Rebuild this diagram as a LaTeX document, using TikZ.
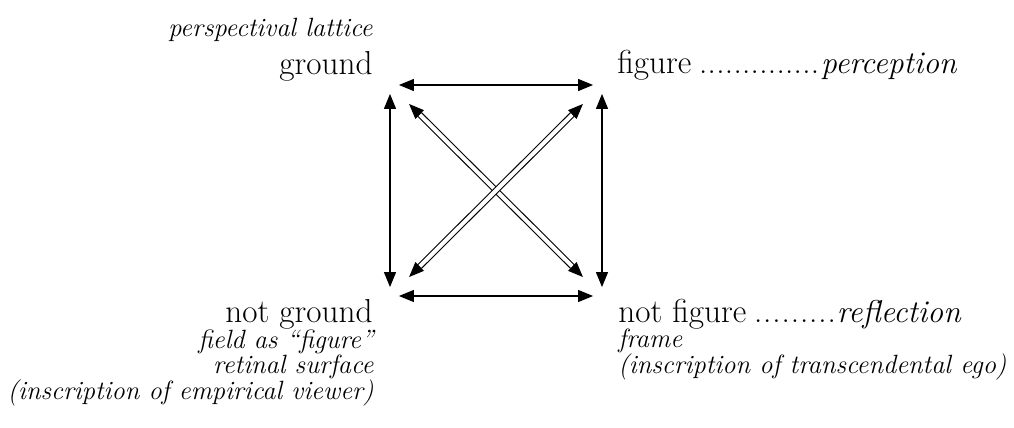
\documentclass[tikz,border=0pt]{standalone}
\usetikzlibrary{arrows.meta}
\newcommand\dotA{\hbox to 4.3pt{\hss.\hss}}
\newcommand\dotB{\hbox to 4.6pt{\hss.\hss}}
\begin{document}
\begin{tikzpicture}[x=0.5pt,y=-0.5pt,
  rom/.style={font=\fontsize{16.6}{19}\selectfont, inner sep=0pt},
  itl/.style={font=\fontsize{13.2}{15}\selectfont\itshape, inner sep=0pt},
  corner/.style={circle, minimum size=8.5pt, inner sep=0pt},
  tip/.tip={Triangle[length=7.5pt,width=6pt]},
  arr/.style={tip-tip, line width=0.55pt},
  dbl/.style={arr, double, double distance=2pt, shorten <=9pt, shorten >=9pt}]
\useasboundingbox (0,0) rectangle (1014,428);
% corners
\node[corner] (TL) at (390,85) {};
\node[corner] (TR) at (602,85) {};
\node[corner] (BL) at (390,296) {};
\node[corner] (BR) at (602,296) {};
% connectors
\draw[arr] (TL) -- (TR);
\draw[arr] (BL) -- (BR);
\draw[arr] (TL) -- (BL);
\draw[arr] (TR) -- (BR);
\draw[dbl] (TL) -- (BR);
\draw[dbl] (TR) -- (BL);
% labels top left
\node[itl, anchor=base east] (pl) at (373,37) {perspectival lattice};
\node[rom, anchor=base east] (gr) at (373,75) {ground};
% top right
\node[rom, anchor=base west] (fig) at (617,73)
  {figure\hspace{3.8pt}\dotA\dotA\dotA\dotA\dotA\dotA\dotA\dotA\dotA\dotA\dotA\dotA\dotA\dotA\hspace{0.8pt}{\fontsize{15.8}{19}\selectfont\itshape perception}};
% bottom left
\node[rom, anchor=base east] (ng) at (373,322) {not ground};
\node[itl, anchor=base east] (fa) at (374,348) {field as “figure”};
\node[itl, anchor=base east] (rs) at (374,373) {retinal surface};
\node[itl, anchor=base east] (ie) at (374,399) {(inscription of empirical viewer)};
% bottom right
\node[rom, anchor=base west] (nf) at (618,322)
  {not figure\hspace{3.6pt}\dotB\dotB\dotB\dotB\dotB\dotB\dotB\dotB\dotB\hspace{0.3pt}{\fontsize{15.8}{19}\selectfont\itshape reflection}};
\node[itl, anchor=base west] (fr) at (618,347) {frame};
\node[itl, anchor=base west] (it) at (618,373) {(inscription of transcendental ego)};
\end{tikzpicture}
\end{document}
